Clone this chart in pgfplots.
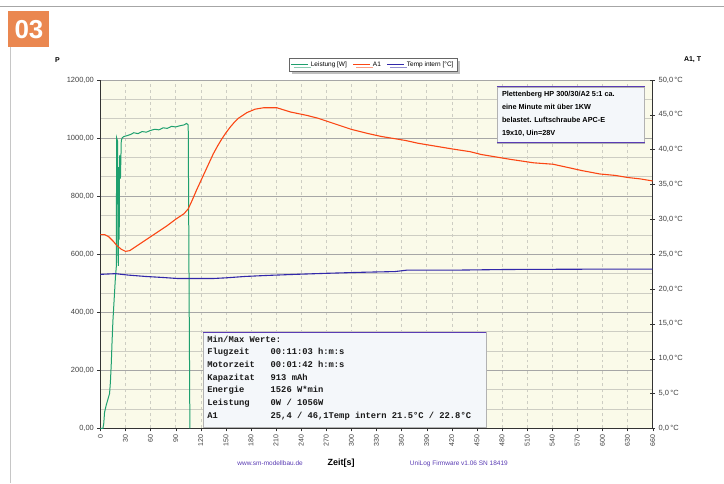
\documentclass[border=0pt]{standalone}
\usepackage{fontspec}
\setmainfont{Liberation Sans}
\setmonofont{Liberation Mono}
\usepackage{pgfplots}
\pgfplotsset{compat=1.18}
\usetikzlibrary{shadows}
\definecolor{cgreen}{RGB}{30,160,110}
\definecolor{cred}{RGB}{250,70,20}
\definecolor{cblue}{RGB}{50,40,170}
\definecolor{cbg}{RGB}{250,250,233}
\definecolor{corange}{RGB}{234,135,80}
\definecolor{cpurple}{RGB}{90,60,180}
\definecolor{cbox}{RGB}{244,247,250}
\definecolor{cgrid}{RGB}{205,205,195}
\begin{document}
\begin{tikzpicture}[x=1pt,y=1pt]
\fill[white] (0,0) rectangle (724,484);
\draw[gray!70, line width=1pt] (0,477) -- (724,477);
\draw[gray!45, line width=0.8pt] (10,0) -- (10,437);
\fill[corange] (8,437) rectangle (49,473);
\node[white, font=\fontsize{26}{26}\selectfont\bfseries] at (28.5,454) {03};

\begin{axis}[
  at={(100pt,55pt)}, anchor=south west, scale only axis,
  width=553pt, height=349pt,
  xmin=0, xmax=660, ymin=0, ymax=1200,
  xtick={0,30,...,660}, ytick={0,200,...,1200},
  minor y tick num=2,
  axis x line*=bottom, axis y line*=left,
  axis line style={-, black!80},
  tick align=outside, major tick length=3pt, minor tick length=0pt,
  tick style={black!80},
  axis background/.style={fill=cbg},
  xmajorgrids, ymajorgrids, yminorgrids,
  x grid style={cgrid, dashed, line width=0.4pt},
  major y grid style={black!35, line width=0.5pt},
  minor y grid style={cgrid, line width=0.4pt},
  /pgf/number format/assume math mode=true,
  xticklabel style={rotate=90, anchor=east, font=\fontsize{7}{8}\selectfont, text=black!75},
  yticklabel style={font=\fontsize{7.5}{8}\selectfont, text=black!75},
  yticklabel={\pgfmathprintnumber[fixed,fixed zerofill,precision=2,use comma,1000 sep={}]{\tick}},
  legend style={at={(0.494,1.043)}, anchor=center, legend columns=-1,
    font=\fontsize{6.5}{7}\selectfont, draw=black!60, fill=white, drop shadow,
    inner sep=1.5pt, /tikz/every even column/.append style={column sep=4pt}},
]
\addplot[cgreen, line width=1pt] coordinates {
(0,0) (3,0) (4,15) (5,55) (7,80) (9,100) (11,120) (12,160) (13,220) (14,300)
(15,370) (16,420) (17,470) (18,520) (19,555) (19.5,1000) (20.5,990) (21,600)
(21.5,560) (22,900) (22.5,650) (23,940) (24,860) (25,990) (26,1000) (28,1005)
(32,1008) (36,1012) (40,1018) (45,1015) (50,1022) (55,1020) (60,1026) (65,1030)
(70,1028) (75,1035) (80,1033) (85,1040) (90,1038) (95,1042) (100,1045) (103,1050)
(105,1045) (106,500) (107,0)
};
\addlegendentry{Leistung [W]}
\addlegendimage{cred, line width=1pt}
\addlegendentry{A1}
\addlegendimage{cblue, line width=1pt}
\addlegendentry{Temp intern [°C]}
\end{axis}

\begin{axis}[
  at={(100pt,55pt)}, anchor=south west, scale only axis,
  width=553pt, height=349pt,
  xmin=0, xmax=660, ymin=0, ymax=50,
  axis x line=none, axis y line*=right,
  axis line style={-, black!80},
  ytick={0,5,...,50},
  tick align=center, major tick length=5pt,
  tick style={black!80},
  /pgf/number format/assume math mode=true,
  yticklabel style={font=\fontsize{7.5}{8}\selectfont, text=black!75},
  yticklabel={\pgfmathprintnumber[fixed,fixed zerofill,precision=1,use comma]{\tick}\,°C},
]
\addplot[cred, line width=1.1pt] coordinates {
(0,27.8) (5,27.8) (10,27.5) (15,26.9) (20,26.2) (25,25.7) (30,25.4) (35,25.5)
(40,25.9) (50,26.7) (60,27.5) (70,28.3) (80,29.1) (90,30.0) (100,30.8) (105,31.5)
(110,32.8) (115,34.2) (120,35.5) (125,36.8) (130,38.1) (135,39.4) (140,40.5)
(145,41.5) (150,42.4) (155,43.2) (160,43.9) (165,44.5) (175,45.3) (185,45.8)
(195,46.0) (211,46.0) (227,45.4) (247,44.9) (260,44.5) (275,43.9) (290,43.3)
(300,42.9) (320,42.3) (335,41.9) (350,41.6) (365,41.3) (380,40.9) (400,40.5)
(420,40.1) (442,39.7) (455,39.3) (470,39.0) (490,38.6) (518,38.1) (541,37.9)
(560,37.4) (575,37.0) (597,36.5) (615,36.3) (630,36.0) (645,35.8) (660,35.5)
};
\addplot[cblue, line width=1.1pt] coordinates {
(0,22.1) (18,22.2) (33,22.0) (54,21.8) (75,21.65) (93,21.5) (134,21.5) (150,21.6)
(173,21.8) (200,21.95) (233,22.1) (270,22.25) (313,22.4) (352,22.5) (366,22.7)
(420,22.7) (486,22.8) (597,22.85) (660,22.85)
};
\end{axis}

% axis side titles
\node[font=\fontsize{7}{8}\selectfont\bfseries] at (57,424) {P};
\node[font=\fontsize{7}{8}\selectfont\bfseries] at (693,424) {A1, T};

% info box top right
\fill[cbox] (497,341) rectangle (645,397);
\draw[black!30, line width=0.4pt] (497,341) rectangle (645,397);
\draw[cpurple, line width=0.8pt] (497,397) -- (645,397);
\draw[cpurple, line width=0.8pt] (497,341) -- (645,341);
\node[anchor=north west, align=left, inner sep=0pt,
  font=\fontsize{7.3}{13}\selectfont\bfseries] at (502,393)
  {Plettenberg HP 300/30/A2 5:1 ca.\\eine Minute mit über 1KW\\belastet. Luftschraube APC-E\\19x10, Uin=28V};

% min/max box
\fill[cbox] (203,56) rectangle (486,151);
\draw[black!30, line width=0.4pt] (203,56) rectangle (486,151);
\draw[cpurple, line width=0.8pt] (203,151) -- (486,151);
\node[anchor=north west, align=left, inner sep=0pt, text=black!90,
  font=\fontsize{8.8}{12.7}\selectfont\ttfamily\bfseries] at (207,148)
  {Min/Max Werte:\\
   Flugzeit\ \ \ \ 00:11:03 h:m:s\\
   Motorzeit\ \ \ 00:01:42 h:m:s\\
   Kapazitat\ \ \ 913 mAh\\
   Energie\ \ \ \ \ 1526 W*min\\
   Leistung\ \ \ \ 0W / 1056W\\
   A1\ \ \ \ \ \ \ \ \ \ 25,4 / 46,1Temp intern 21.5°C / 22.8°C};

% bottom texts
\node[font=\fontsize{6.5}{7}\selectfont, text=cpurple] at (270,20) {www.sm-modellbau.de};
\node[font=\fontsize{9}{10}\selectfont\bfseries] at (341,20) {Zeit[s]};
\node[font=\fontsize{6.5}{7}\selectfont, text=cpurple] at (459,20) {UniLog Firmware v1.06 SN 18419};
\end{tikzpicture}
\end{document}
